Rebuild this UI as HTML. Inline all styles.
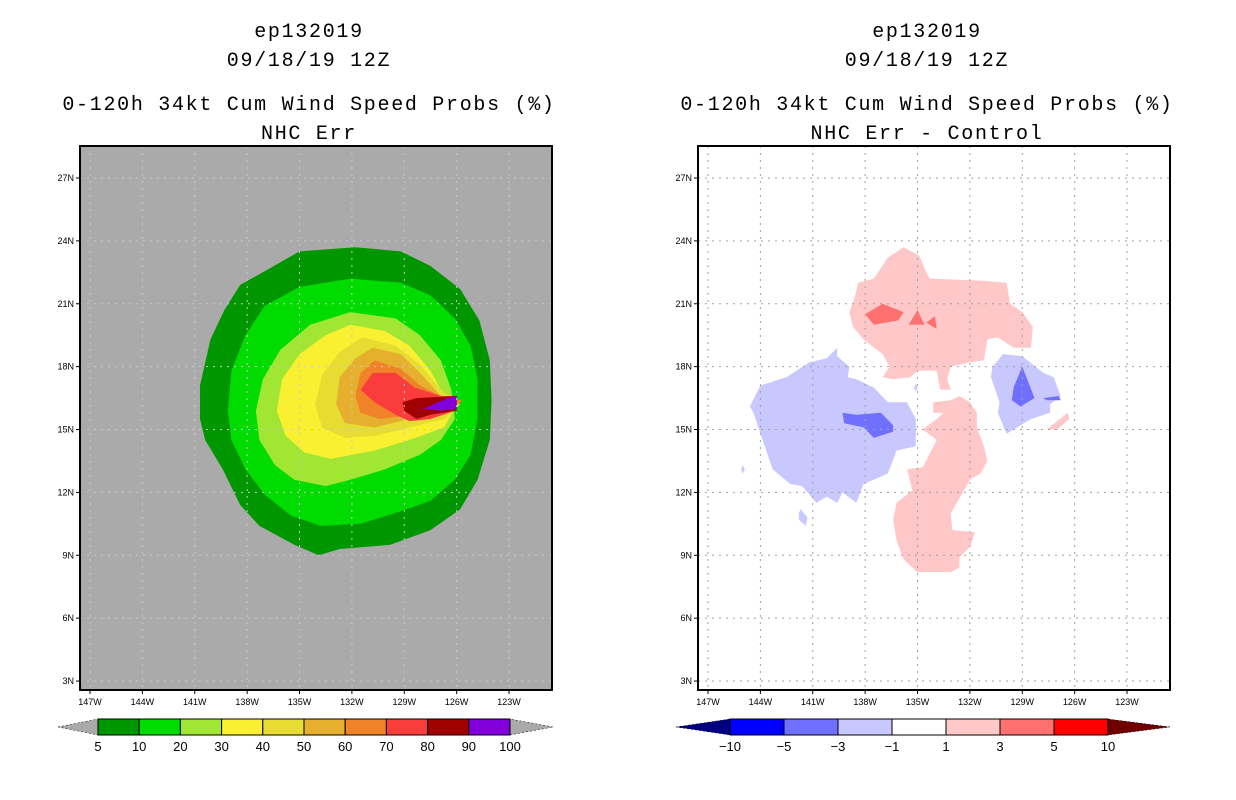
<!DOCTYPE html>
<html><head><meta charset="utf-8"><style>
body{margin:0;background:#fff;}
svg{display:block;font-family:"Liberation Sans",sans-serif;}
.ttl{font-family:"Liberation Mono",monospace;letter-spacing:1.7px;}
</style></head><body>
<svg id="c" width="1236" height="800"></svg>
<script>
const lonTicks=[147,144,141,138,135,132,129,126,123];
const latTicks=[27,24,21,18,15,12,9,6,3];
const leftLevels=["5","10","20","30","40","50","60","70","80","90","100"];
const leftColors=["#009600","#00dc00","#a0e632","#f8f030","#e6dc32","#e6af2d","#f08228","#fa3c3c","#a00000","#8200dc"];
const rightLevels=["-10","-5","-3","-1","1","3","5","10"];
const rightColors=["#0000ff","#7070ff","#c8c8ff","#ffffff","#ffc8c8","#ff7070","#ff0000"];
// contour polygons [lonW, latN]
const p5=[[137.1,22.5],[135.0,23.5],[131.8,23.7],[129.2,23.5],[127.5,22.8],[125.8,21.7],[124.7,20.2],[124.1,18.3],[124.0,16.4],[124.1,14.5],[124.8,12.6],[125.8,11.2],[127.5,10.2],[129.8,9.5],[132.7,9.3],[133.9,9.0],[135.3,9.5],[137.3,10.4],[138.4,11.4],[139.4,13.1],[140.4,14.5],[140.7,15.5],[140.7,17.1],[140.1,19.3],[139.3,20.7],[138.4,21.9]];
const p10=[[132.1,22.2],[129.2,22.0],[127.5,21.4],[126.1,20.3],[125.2,19.0],[124.8,17.4],[124.8,15.5],[125.2,13.8],[126.1,12.6],[127.5,11.6],[129.2,11.1],[131.5,10.5],[133.8,10.4],[135.5,10.9],[137.0,11.9],[138.1,13.1],[138.9,14.5],[139.1,15.9],[138.9,17.8],[138.1,19.5],[137.0,20.9],[135.0,21.8]];
const p20=[[132.1,20.6],[129.5,20.3],[128.1,19.5],[126.9,18.3],[126.3,16.9],[126.1,15.5],[126.9,14.5],[128.1,13.8],[130.1,13.1],[132.1,12.6],[133.5,12.3],[135.3,12.6],[136.4,13.3],[137.3,14.5],[137.5,15.9],[137.1,17.4],[136.1,18.8],[134.4,20.0]];
const p30=[[132.1,20.0],[130.1,19.7],[128.7,19.0],[127.5,17.8],[126.7,16.6],[125.9,16.4],[126.7,15.1],[128.7,14.5],[130.7,14.0],[133.2,13.6],[134.7,13.9],[135.8,14.7],[136.3,15.9],[136.0,17.4],[135.0,18.6],[133.5,19.5]];
const p40=[[131.4,19.4],[129.5,19.0],[128.1,18.1],[126.9,16.9],[125.8,16.2],[126.7,15.5],[128.7,15.1],[130.7,14.7],[132.4,14.6],[133.7,15.1],[134.1,16.2],[133.7,17.6],[132.7,18.7]];
const p50=[[130.8,18.9],[129.2,18.6],[128.1,17.7],[126.9,16.6],[125.8,16.3],[126.7,15.7],[128.7,15.5],[130.7,15.1],[132.4,15.3],[132.9,16.2],[132.7,17.5],[131.8,18.4]];
const p60=[[130.7,18.3],[129.2,17.9],[128.1,17.1],[126.7,16.5],[125.7,16.4],[126.4,15.8],[128.4,15.7],[130.4,15.5],[131.5,15.8],[131.8,16.6],[131.5,17.7]];
const p70=[[130.8,17.7],[129.5,17.7],[128.4,17.0],[126.9,16.6],[126.1,16.6],[126.1,15.9],[127.5,15.5],[128.7,15.4],[129.5,15.7],[130.7,16.3],[131.5,16.9]];
const p80=[[129.1,16.3],[128.3,16.5],[126.0,16.6],[126.0,15.9],[127.5,15.7],[128.3,15.5],[129.0,15.9]];
const p90=[[127.9,16.0],[126.5,16.5],[126.0,16.6],[126.0,16.0],[126.9,15.9]];
const leftPolys=[p5,p10,p20,p30,p40,p50,p60,p70,p80,p90];

const pinkN=[[138.4,22.0],[137.5,22.2],[136.7,23.2],[135.8,23.7],[134.9,23.3],[134.5,22.5],[134.3,22.2],[131.2,22.1],[129.9,22.0],[129.7,21.0],[129.0,20.6],[128.4,19.9],[128.5,18.9],[129.5,18.9],[130.4,19.4],[131.0,19.3],[131.2,18.3],[132.0,18.2],[133.1,18.0],[133.3,17.4],[133.1,16.9],[133.7,16.9],[133.9,17.8],[135.0,17.8],[135.4,17.5],[136.4,17.4],[137.0,17.5],[136.6,18.0],[137.0,18.6],[138.1,19.3],[138.7,19.9],[138.9,20.6],[138.6,21.3]];
const pinkS=[[134.1,16.3],[133.1,16.4],[132.6,16.6],[132.0,16.3],[131.6,15.8],[131.6,15.1],[131.2,14.2],[131.0,13.5],[131.4,12.9],[132.0,12.6],[132.4,12.0],[133.1,11.0],[133.0,10.2],[131.7,10.1],[132.0,9.4],[132.6,8.9],[132.6,8.4],[133.1,8.2],[135.0,8.2],[135.8,8.8],[136.2,9.7],[136.4,10.7],[136.2,11.5],[135.3,12.1],[135.6,13.1],[134.7,13.2],[133.9,14.5],[134.7,15.0],[133.9,15.5],[133.5,15.8],[134.1,15.8]];
const pinkSE=[[127.6,15.0],[126.4,15.8],[126.3,15.5],[127.0,15.0]];
const red1=[[138.0,20.5],[137.0,21.0],[135.8,20.6],[136.1,20.2],[137.5,20.0]];
const red2=[[135.5,20.0],[135.0,20.7],[134.6,20.0]];
const red3=[[134.5,20.1],[134.0,20.4],[133.9,19.8]];
const blueW=[[144.0,17.1],[142.5,17.5],[141.2,18.2],[140.2,18.4],[139.6,18.9],[139.6,18.5],[138.9,18.0],[139.0,17.5],[138.5,17.4],[137.5,17.0],[136.7,16.3],[135.6,16.3],[135.1,15.5],[135.1,14.2],[136.2,14.0],[136.7,12.9],[137.5,12.6],[138.1,12.4],[138.5,11.5],[139.3,12.0],[139.6,11.5],[140.2,11.8],[140.8,11.5],[141.6,12.3],[142.3,12.4],[143.3,13.1],[144.4,15.8],[144.6,16.1]];
const blueE=[[130.7,18.0],[130.1,18.6],[129.0,18.5],[127.8,17.7],[127.2,17.5],[126.8,16.6],[127.4,16.2],[127.4,15.8],[128.5,15.5],[129.9,14.8],[130.4,15.8],[130.3,16.3],[130.8,17.5]];
const blueDot1=[[141.8,11.0],[141.7,11.2],[141.3,10.8],[141.4,10.4],[141.8,10.7]];
const blueDot2=[[145.1,13.1],[145.0,13.3],[144.9,13.1],[145.0,12.9]];
const blueDot3=[[135.2,17.0],[135.1,17.2],[135.0,17.0],[135.1,16.8]];
const dblueW=[[139.3,15.8],[138.5,15.7],[137.1,15.8],[136.4,15.2],[136.4,14.9],[137.5,14.6],[138.1,15.1],[139.2,15.3]];
const dblueE=[[129.0,18.0],[128.3,16.5],[129.1,16.1],[129.6,16.4],[129.5,17.0]];
const dblueE2=[[127.8,16.5],[126.9,16.6],[126.8,16.4],[127.6,16.4]];

const NS="http://www.w3.org/2000/svg";
const svg=document.getElementById('c');
function el(tag,attrs,parent){const e=document.createElementNS(NS,tag);for(const k in attrs)e.setAttribute(k,attrs[k]);(parent||svg).appendChild(e);return e;}
function txt(x,y,s,size,anchor,parent){const t=el('text',{x:x,y:y,'font-size':size,'text-anchor':anchor||'middle',fill:'#000'},parent);t.textContent=s;return t;}

function panel(ox,name,bg,polys,colors,title4){
  const g=el('g',{});
  
  
  const L=ox, R=ox+472, T=146, B=690;
  const xs=lon=>ox+10+(147-lon)*17.46;
  const ys=lat=>178+(27-lat)*20.96;
  const cx=ox+229;
  const t1=txt(cx,37,'ep132019',20,'middle',g);
  t1.setAttribute('class','ttl');
  
  const t2=txt(cx,66,'09/18/19 12Z',20,'middle',g);
  t2.setAttribute('class','ttl');
  
  const t3=txt(cx,110,'0-120h 34kt Cum Wind Speed Probs (%)',20,'middle',g);
  t3.setAttribute('class','ttl');
  
  const t4=txt(cx,139,title4,20,'middle',g);
  t4.setAttribute('class','ttl');
  
  el('defs',{},g).innerHTML='<clipPath id="clip'+ox+'"><rect x="'+L+'" y="'+T+'" width="472" height="544"/></clipPath>';
  const bgR=el('rect',{x:L,y:T,width:472,height:544,fill:bg},g);
  
  const pg=el('g',{'clip-path':'url(#clip'+ox+')'},g);
  polys.forEach((p,i)=>{
    const poly=el('polygon',{points:p.map(q=>xs(q[0]).toFixed(1)+','+ys(q[1]).toFixed(1)).join(' '),fill:colors[i]},pg);
    
    
  });
  const gc=bg==='#fff'?'#a0a0a0':'#c8c8c8';
  lonTicks.forEach(l=>{
    const x=xs(l);
    const gl=el('line',{x1:x,y1:T,x2:x,y2:B,stroke:gc,'stroke-width':1,'stroke-dasharray':'2,5'},g);
    
    el('line',{x1:x,y1:B,x2:x,y2:B+4,stroke:'#000'},g);
    const lt=txt(x,705,l+'W',9,'middle',g);
    
  });
  latTicks.forEach(l=>{
    const y=ys(l);
    const gl=el('line',{x1:L,y1:y,x2:R,y2:y,stroke:gc,'stroke-width':1,'stroke-dasharray':'2,5'},g);
    
    el('line',{x1:L-4,y1:y,x2:L,y2:y,stroke:'#000'},g);
    const lt=txt(L-6,y+3,l+'N',9,'end',g);
    
  });
  const fr=el('rect',{x:L,y:T,width:472,height:544,fill:'none',stroke:'#000','stroke-width':2},g);
  
}
panel(80,'left-panel-nhc-err','#aaaaaa',leftPolys,leftColors,'NHC Err');
const rPolys=[pinkN,pinkS,pinkSE,red1,red2,red3,blueW,blueE,blueDot1,blueDot2,blueDot3,dblueW,dblueE,dblueE2];
const rCols=['#ffc8c8','#ffc8c8','#ffc8c8','#ff7070','#ff7070','#ff7070','#c8c8ff','#c8c8ff','#c8c8ff','#c8c8ff','#c8c8ff','#7070ff','#7070ff','#7070ff'];
panel(698,'right-panel-difference','#fff',rPolys,rCols,'NHC Err - Control');

function colorbar(name,x0,x1,lt,rt,cols,labels,triL,triR){
  const g=el('g',{});
  
  
  const y0=719,y1=735,ym=727;
  const w=(x1-x0)/cols.length;
  const tl=el('polygon',{points:lt+','+ym+' '+x0+','+y0+' '+x0+','+y1,fill:triL,stroke:'#000','stroke-width':0.5,'stroke-dasharray':'2,2'},g);
  
  const tr=el('polygon',{points:rt+','+ym+' '+x1+','+y0+' '+x1+','+y1,fill:triR,stroke:'#000','stroke-width':0.5,'stroke-dasharray':'2,2'},g);
  
  cols.forEach((c,i)=>{
    const r=el('rect',{x:x0+i*w,y:y0,width:w,height:y1-y0,fill:c,stroke:'#000','stroke-width':1},g);
    
  });
  labels.forEach((s,i)=>{
    const t=txt(x0+i*w,751,s.replace('-','\u2212'),13,'middle',g);
    
  });
}
colorbar('left-colorbar',98,510,58,553,leftColors,leftLevels,'#aaaaaa','#aaaaaa');
colorbar('right-colorbar',730,1108,676,1170,rightColors,rightLevels,'#000080','#700000');
</script>
</body></html>
